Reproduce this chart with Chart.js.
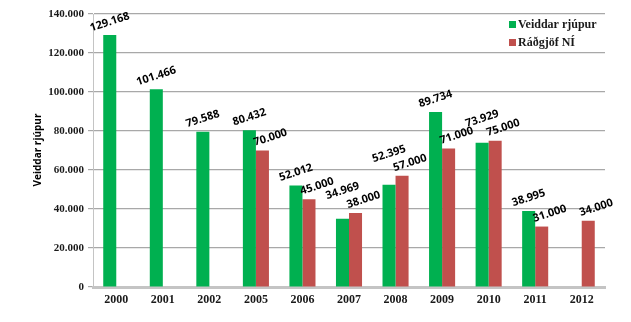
<!DOCTYPE html>
<html>
<head>
<meta charset="utf-8">
<script src="https://cdn.jsdelivr.net/npm/chart.js@4.4.1/dist/chart.umd.min.js"></script>
<style>
  html, body { margin: 0; padding: 0; background: #fff; }
  #wrap { width: 631px; height: 322px; position: relative; }
</style>
</head>
<body>
<div id="wrap"><canvas id="myChart" width="631" height="322"></canvas></div>
<script>
// ár og veiðitölur
const years = ['2000', '2001', '2002', '2005', '2006', '2007', '2008', '2009', '2010', '2011', '2012']
const veiddar = [129168, 101466, 79588, 80432, 52012, 34969, 52395, 89734, 73929, 38995, null]
const radgjof = [null, null, null, 70000, 45000, 38000, 57000, 71000, 75000, 31000, 34000]
const yTicks = [0, 20000, 40000, 60000, 80000, 100000, 120000, 140000]

const colors = {
  green: '#00b050',
  red: '#c0504d',
  grid: '#a8a8a8',
  axis: '#c4c4c4',
  text: '#1a1a1a',
}

// 129168 -> "129.168"
const fmt = (v) => String(v).replace(/\B(?=(\d{3})+(?!\d))/g, '.')

// tölur fyrir ofan súlurnar, skáhallt
const barLabels = {
  id: 'barLabels',
  afterDatasetsDraw(chart) {
    const ctx = chart.ctx
    const greenBars = chart.getDatasetMeta(0).data
    const redBars = chart.getDatasetMeta(1).data
    const put = (text, x, y) => {
      ctx.save()
      ctx.translate(x, y)
      ctx.rotate(-18 * Math.PI / 180)
      ctx.fillText(text, 0, 0)
      ctx.restore()
    }
    ctx.save()
    ctx.font = 'bold 11px "Open Sans", sans-serif'
    ctx.fillStyle = '#000'
    ctx.textAlign = 'center'
    ctx.textBaseline = 'middle'
    years.forEach((_, j) => {
      let redY = null
      if (radgjof[j] != null) {
        const b = redBars[j]
        redY = b.y - 13
        put(fmt(radgjof[j]), b.x + 8, redY)
      }
      if (veiddar[j] != null) {
        const b = greenBars[j]
        let y = b.y - 13
        // lyfta grænu tölunni ef hún rekst á þá rauðu
        if (redY != null && y > redY - 9) y = redY - 9
        put(fmt(veiddar[j]), b.x, y)
      }
    })
    ctx.restore()
  },
}

// skýringar og heiti y-áss
const extras = {
  id: 'extras',
  afterDraw(chart) {
    const ctx = chart.ctx
    ctx.save()
    ctx.font = 'bold 12px "Liberation Serif", serif'
    ctx.textBaseline = 'middle'
    ctx.textAlign = 'left'
    const items = [
      { label: 'Veiddar rjúpur', color: colors.green, y: 24 },
      { label: 'Ráðgjöf NÍ', color: colors.red, y: 42 },
    ]
    items.forEach((it) => {
      ctx.fillStyle = it.color
      ctx.fillRect(509, it.y - 3, 7, 7)
      ctx.fillStyle = colors.text
      ctx.fillText(it.label, 518, it.y + 1)
    })

    ctx.font = 'bold 10px "Open Sans", sans-serif'
    ctx.fillStyle = '#000'
    ctx.textAlign = 'center'
    ctx.translate(38, 150)
    ctx.rotate(-Math.PI / 2)
    ctx.fillText('Veiddar rjúpur', 0, 0)
    ctx.restore()
  },
}

const ctx = document.getElementById('myChart').getContext('2d')
new Chart(ctx, {
  type: 'bar',
  data: {
    labels: years,
    datasets: [
      {
        label: 'Veiddar rjúpur',
        data: veiddar,
        backgroundColor: colors.green,
        categoryPercentage: 0.56,
        barPercentage: 1,
      },
      {
        label: 'Ráðgjöf NÍ',
        data: radgjof,
        backgroundColor: colors.red,
        categoryPercentage: 0.56,
        barPercentage: 1,
      },
    ],
  },
  options: {
    responsive: false,
    animation: false,
    layout: { padding: { top: 14, right: 26, left: 0, bottom: 0 } },
    plugins: {
      legend: { display: false },
      tooltip: { enabled: false },
    },
    scales: {
      x: {
        grid: { display: false, drawTicks: false },
        border: { display: true, color: colors.axis, width: 3 },
        ticks: {
          color: colors.text,
          font: { family: '"Liberation Serif", serif', size: 12, weight: 'bold' },
          padding: 6,
          maxRotation: 0,
        },
        afterFit(scale) { scale.height = 35 },
      },
      y: {
        min: 0,
        max: 140000,
        afterBuildTicks(scale) { scale.ticks = yTicks.map((v) => ({ value: v })) },
        grid: { color: colors.grid, lineWidth: 1.2, tickLength: 5, tickColor: colors.grid },
        border: { display: true, color: colors.axis, width: 1 },
        ticks: {
          color: colors.text,
          font: { family: '"Liberation Serif", serif', size: 11, weight: 'bold' },
          padding: 4,
          callback: (v) => fmt(v),
        },
        afterFit(scale) { scale.width = 93 },
      },
    },
  },
  plugins: [barLabels, extras],
})
</script>
</body>
</html>
